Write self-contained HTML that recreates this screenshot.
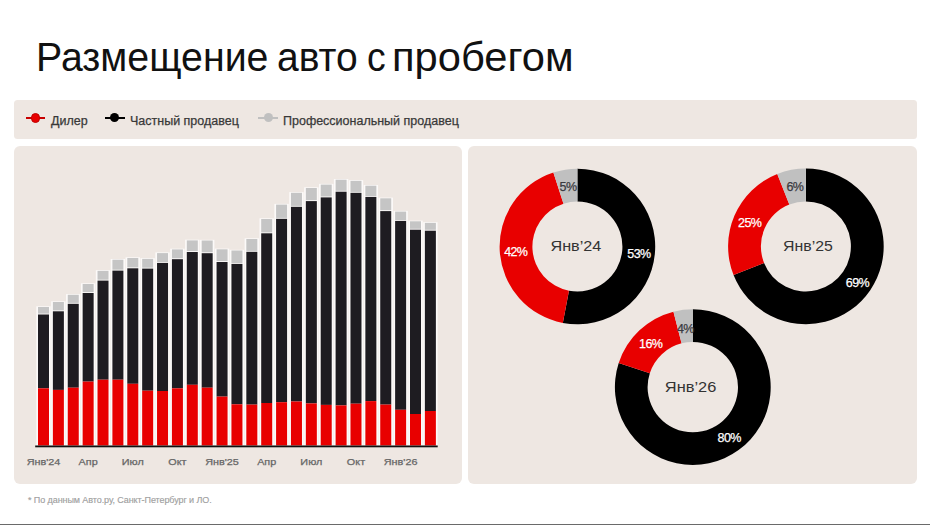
<!DOCTYPE html>
<html><head><meta charset="utf-8"><style>
*{margin:0;padding:0;box-sizing:border-box}
html,body{width:930px;height:525px;background:#fff;overflow:hidden}
body{position:relative;font-family:"Liberation Sans","DejaVu Sans",sans-serif}
.title{position:absolute;left:0;top:33.4px;width:930px;height:48px;font-size:41px;line-height:48px;color:#111;white-space:nowrap}
.legend{position:absolute;left:14px;top:100px;width:903px;height:39.3px;background:#EEE7E2;border-radius:3.5px}
.panel{position:absolute;top:146.3px;height:338.2px;background:#EEE7E2;border-radius:6px}
.lg{position:absolute;top:1.5px;height:39px;line-height:39px;font-size:12.5px;color:#383838;white-space:nowrap;-webkit-text-stroke:0.25px #383838}
.mk{position:absolute;top:17px;height:2px}
.dot{position:absolute;top:-3.5px;border-radius:50%}
.foot{position:absolute;left:28px;top:494.8px;font-size:9px;letter-spacing:-0.08px;-webkit-text-stroke:0.15px #a0a0a0;color:#a0a0a0;white-space:nowrap}
.bline{position:absolute;left:0;top:524px;width:930px;height:1px;background:#6a6a6a}
svg{position:absolute;left:0;top:0}
.ax{font-size:9.4px;fill:#666;stroke:#666;stroke-width:0.25px}
.pct{font-size:12.5px;letter-spacing:-0.6px;stroke-width:0.25px}
.ctr{font-size:14.9px;fill:#333}
</style></head><body>
<div class="title"><span style="position:absolute;left:36.12px;top:0;transform:scaleX(0.9584);transform-origin:0 0">Размещение</span><span style="position:absolute;left:276.90px;top:0;transform:scaleX(0.9519);transform-origin:0 0">авто</span><span style="position:absolute;left:367.48px;top:0;transform:scaleX(0.9118);transform-origin:0 0">с</span><span style="position:absolute;left:392.45px;top:0;transform:scaleX(1.0162);transform-origin:0 0">пробегом</span></div>
<div class="legend">
 <div class="mk" style="left:12.1px;width:19.2px;background:#C80000"><div class="dot" style="left:4.9px;top:-3.8px;width:9.5px;height:9.5px;background:#E80000;border:0.8px solid #C00000"></div></div>
 <div class="lg" style="left:37px">Дилер</div>
 <div class="mk" style="left:91px;width:19.6px;background:#000"><div class="dot" style="left:5.2px;top:-3.6px;width:9px;height:9px;background:#000"></div></div>
 <div class="lg" style="left:116px">Частный продавец</div>
 <div class="mk" style="left:244.1px;width:19.6px;background:#C0C0C0"><div class="dot" style="left:5.6px;top:-3.6px;width:9px;height:9px;background:#C0C0C0"></div></div>
 <div class="lg" style="left:269px">Профессиональный продавец</div>
</div>
<div class="panel" style="left:14px;width:448px"></div>
<div class="panel" style="left:468px;width:449px"></div>
<svg width="930" height="525" viewBox="0 0 930 525" font-family="Liberation Sans, DejaVu Sans, sans-serif">
<rect x="36.30" y="306.30" width="14.40" height="139.20" fill="#FCFAF9"/>
<rect x="38.00" y="307.00" width="11.00" height="6.60" fill="#C5C5C5"/>
<rect x="38.00" y="314.50" width="11.00" height="73.80" fill="#1E1C21"/>
<rect x="38.00" y="388.30" width="11.00" height="57.20" fill="#E80000"/>
<rect x="51.18" y="301.30" width="14.40" height="144.20" fill="#FCFAF9"/>
<rect x="52.88" y="302.00" width="11.00" height="8.40" fill="#C5C5C5"/>
<rect x="52.88" y="311.30" width="11.00" height="78.60" fill="#1E1C21"/>
<rect x="52.88" y="389.90" width="11.00" height="55.60" fill="#E80000"/>
<rect x="66.06" y="294.10" width="14.40" height="151.40" fill="#FCFAF9"/>
<rect x="67.76" y="294.80" width="11.00" height="8.10" fill="#C5C5C5"/>
<rect x="67.76" y="303.80" width="11.00" height="83.90" fill="#1E1C21"/>
<rect x="67.76" y="387.70" width="11.00" height="57.80" fill="#E80000"/>
<rect x="80.94" y="283.30" width="14.40" height="162.20" fill="#FCFAF9"/>
<rect x="82.64" y="284.00" width="11.00" height="8.10" fill="#C5C5C5"/>
<rect x="82.64" y="293.00" width="11.00" height="88.60" fill="#1E1C21"/>
<rect x="82.64" y="381.60" width="11.00" height="63.90" fill="#E80000"/>
<rect x="95.82" y="270.20" width="14.40" height="175.30" fill="#FCFAF9"/>
<rect x="97.52" y="270.90" width="11.00" height="8.80" fill="#C5C5C5"/>
<rect x="97.52" y="280.60" width="11.00" height="99.10" fill="#1E1C21"/>
<rect x="97.52" y="379.70" width="11.00" height="65.80" fill="#E80000"/>
<rect x="110.70" y="259.00" width="14.40" height="186.50" fill="#FCFAF9"/>
<rect x="112.40" y="259.70" width="11.00" height="10.00" fill="#C5C5C5"/>
<rect x="112.40" y="270.60" width="11.00" height="109.10" fill="#1E1C21"/>
<rect x="112.40" y="379.70" width="11.00" height="65.80" fill="#E80000"/>
<rect x="125.58" y="257.30" width="14.40" height="188.20" fill="#FCFAF9"/>
<rect x="127.28" y="258.00" width="11.00" height="9.40" fill="#C5C5C5"/>
<rect x="127.28" y="268.30" width="11.00" height="115.50" fill="#1E1C21"/>
<rect x="127.28" y="383.80" width="11.00" height="61.70" fill="#E80000"/>
<rect x="140.46" y="258.20" width="14.40" height="187.30" fill="#FCFAF9"/>
<rect x="142.16" y="258.90" width="11.00" height="8.80" fill="#C5C5C5"/>
<rect x="142.16" y="268.60" width="11.00" height="122.10" fill="#1E1C21"/>
<rect x="142.16" y="390.70" width="11.00" height="54.80" fill="#E80000"/>
<rect x="155.34" y="252.40" width="14.40" height="193.10" fill="#FCFAF9"/>
<rect x="157.04" y="253.10" width="11.00" height="8.90" fill="#C5C5C5"/>
<rect x="157.04" y="262.90" width="11.00" height="128.10" fill="#1E1C21"/>
<rect x="157.04" y="391.00" width="11.00" height="54.50" fill="#E80000"/>
<rect x="170.22" y="248.70" width="14.40" height="196.80" fill="#FCFAF9"/>
<rect x="171.92" y="249.40" width="11.00" height="8.90" fill="#C5C5C5"/>
<rect x="171.92" y="259.20" width="11.00" height="129.10" fill="#1E1C21"/>
<rect x="171.92" y="388.30" width="11.00" height="57.20" fill="#E80000"/>
<rect x="185.10" y="239.70" width="14.40" height="205.80" fill="#FCFAF9"/>
<rect x="186.80" y="240.40" width="11.00" height="10.70" fill="#C5C5C5"/>
<rect x="186.80" y="252.00" width="11.00" height="132.80" fill="#1E1C21"/>
<rect x="186.80" y="384.80" width="11.00" height="60.70" fill="#E80000"/>
<rect x="199.98" y="239.80" width="14.40" height="205.70" fill="#FCFAF9"/>
<rect x="201.68" y="240.50" width="11.00" height="11.80" fill="#C5C5C5"/>
<rect x="201.68" y="253.20" width="11.00" height="134.50" fill="#1E1C21"/>
<rect x="201.68" y="387.70" width="11.00" height="57.80" fill="#E80000"/>
<rect x="214.86" y="248.60" width="14.40" height="196.90" fill="#FCFAF9"/>
<rect x="216.56" y="249.30" width="11.00" height="11.80" fill="#C5C5C5"/>
<rect x="216.56" y="262.00" width="11.00" height="134.60" fill="#1E1C21"/>
<rect x="216.56" y="396.60" width="11.00" height="48.90" fill="#E80000"/>
<rect x="229.74" y="249.80" width="14.40" height="195.70" fill="#FCFAF9"/>
<rect x="231.44" y="250.50" width="11.00" height="12.50" fill="#C5C5C5"/>
<rect x="231.44" y="263.90" width="11.00" height="140.40" fill="#1E1C21"/>
<rect x="231.44" y="404.30" width="11.00" height="41.20" fill="#E80000"/>
<rect x="244.62" y="238.30" width="14.40" height="207.20" fill="#FCFAF9"/>
<rect x="246.32" y="239.00" width="11.00" height="11.90" fill="#C5C5C5"/>
<rect x="246.32" y="251.80" width="11.00" height="152.80" fill="#1E1C21"/>
<rect x="246.32" y="404.60" width="11.00" height="40.90" fill="#E80000"/>
<rect x="259.50" y="218.30" width="14.40" height="227.20" fill="#FCFAF9"/>
<rect x="261.20" y="219.00" width="11.00" height="13.40" fill="#C5C5C5"/>
<rect x="261.20" y="233.30" width="11.00" height="169.70" fill="#1E1C21"/>
<rect x="261.20" y="403.00" width="11.00" height="42.50" fill="#E80000"/>
<rect x="274.38" y="203.90" width="14.40" height="241.60" fill="#FCFAF9"/>
<rect x="276.08" y="204.60" width="11.00" height="13.30" fill="#C5C5C5"/>
<rect x="276.08" y="218.80" width="11.00" height="183.40" fill="#1E1C21"/>
<rect x="276.08" y="402.20" width="11.00" height="43.30" fill="#E80000"/>
<rect x="289.26" y="192.10" width="14.40" height="253.40" fill="#FCFAF9"/>
<rect x="290.96" y="192.80" width="11.00" height="13.10" fill="#C5C5C5"/>
<rect x="290.96" y="206.80" width="11.00" height="194.70" fill="#1E1C21"/>
<rect x="290.96" y="401.50" width="11.00" height="44.00" fill="#E80000"/>
<rect x="304.14" y="187.30" width="14.40" height="258.20" fill="#FCFAF9"/>
<rect x="305.84" y="188.00" width="11.00" height="12.20" fill="#C5C5C5"/>
<rect x="305.84" y="201.10" width="11.00" height="202.30" fill="#1E1C21"/>
<rect x="305.84" y="403.40" width="11.00" height="42.10" fill="#E80000"/>
<rect x="319.02" y="183.90" width="14.40" height="261.60" fill="#FCFAF9"/>
<rect x="320.72" y="184.60" width="11.00" height="11.90" fill="#C5C5C5"/>
<rect x="320.72" y="197.40" width="11.00" height="207.50" fill="#1E1C21"/>
<rect x="320.72" y="404.90" width="11.00" height="40.60" fill="#E80000"/>
<rect x="333.90" y="179.00" width="14.40" height="266.50" fill="#FCFAF9"/>
<rect x="335.60" y="179.70" width="11.00" height="11.10" fill="#C5C5C5"/>
<rect x="335.60" y="191.70" width="11.00" height="213.70" fill="#1E1C21"/>
<rect x="335.60" y="405.40" width="11.00" height="40.10" fill="#E80000"/>
<rect x="348.78" y="180.20" width="14.40" height="265.30" fill="#FCFAF9"/>
<rect x="350.48" y="180.90" width="11.00" height="11.00" fill="#C5C5C5"/>
<rect x="350.48" y="192.80" width="11.00" height="210.90" fill="#1E1C21"/>
<rect x="350.48" y="403.70" width="11.00" height="41.80" fill="#E80000"/>
<rect x="363.66" y="185.00" width="14.40" height="260.50" fill="#FCFAF9"/>
<rect x="365.36" y="185.70" width="11.00" height="10.30" fill="#C5C5C5"/>
<rect x="365.36" y="196.90" width="11.00" height="204.20" fill="#1E1C21"/>
<rect x="365.36" y="401.10" width="11.00" height="44.40" fill="#E80000"/>
<rect x="378.54" y="197.60" width="14.40" height="247.90" fill="#FCFAF9"/>
<rect x="380.24" y="198.30" width="11.00" height="11.90" fill="#C5C5C5"/>
<rect x="380.24" y="211.10" width="11.00" height="193.50" fill="#1E1C21"/>
<rect x="380.24" y="404.60" width="11.00" height="40.90" fill="#E80000"/>
<rect x="393.42" y="210.90" width="14.40" height="234.60" fill="#FCFAF9"/>
<rect x="395.12" y="211.60" width="11.00" height="8.40" fill="#C5C5C5"/>
<rect x="395.12" y="220.90" width="11.00" height="188.90" fill="#1E1C21"/>
<rect x="395.12" y="409.80" width="11.00" height="35.70" fill="#E80000"/>
<rect x="408.30" y="220.60" width="14.40" height="224.90" fill="#FCFAF9"/>
<rect x="410.00" y="221.30" width="11.00" height="7.50" fill="#C5C5C5"/>
<rect x="410.00" y="229.70" width="11.00" height="184.30" fill="#1E1C21"/>
<rect x="410.00" y="414.00" width="11.00" height="31.50" fill="#E80000"/>
<rect x="423.18" y="222.20" width="14.40" height="223.30" fill="#FCFAF9"/>
<rect x="424.88" y="222.90" width="11.00" height="6.90" fill="#C5C5C5"/>
<rect x="424.88" y="230.70" width="11.00" height="180.30" fill="#1E1C21"/>
<rect x="424.88" y="411.00" width="11.00" height="34.50" fill="#E80000"/>
<rect x="35.2" y="445.50" width="402.5" height="1.8" fill="#111"/>
<text x="26.68" y="465.2" class="ax" textLength="33.64" lengthAdjust="spacingAndGlyphs">Янв'24</text>
<text x="78.60" y="465.2" class="ax" textLength="19.09" lengthAdjust="spacingAndGlyphs">Апр</text>
<text x="121.80" y="465.2" class="ax" textLength="21.97" lengthAdjust="spacingAndGlyphs">Июл</text>
<text x="168.30" y="465.2" class="ax" textLength="18.23" lengthAdjust="spacingAndGlyphs">Окт</text>
<text x="205.24" y="465.2" class="ax" textLength="33.64" lengthAdjust="spacingAndGlyphs">Янв'25</text>
<text x="257.16" y="465.2" class="ax" textLength="19.09" lengthAdjust="spacingAndGlyphs">Апр</text>
<text x="300.36" y="465.2" class="ax" textLength="21.97" lengthAdjust="spacingAndGlyphs">Июл</text>
<text x="346.86" y="465.2" class="ax" textLength="18.23" lengthAdjust="spacingAndGlyphs">Окт</text>
<text x="383.80" y="465.2" class="ax" textLength="33.64" lengthAdjust="spacingAndGlyphs">Янв'26</text>
<path d="M577.40,168.70 A77.8,77.8 0 1 1 562.82,322.92 L568.97,290.70 A45.0,45.0 0 1 0 577.40,201.50 Z" fill="#000000"/>
<path d="M562.82,322.92 A77.8,77.8 0 0 1 553.36,172.51 L563.49,203.70 A45.0,45.0 0 0 0 568.97,290.70 Z" fill="#E80000"/>
<path d="M553.36,172.51 A77.8,77.8 0 0 1 577.40,168.70 L577.40,201.50 A45.0,45.0 0 0 0 563.49,203.70 Z" fill="#C0C0C0"/>
<text x="638.90" y="257.70" text-anchor="middle" class="pct" fill="#fff" stroke="#fff">53%</text>
<text x="515.75" y="255.80" text-anchor="middle" class="pct" fill="#fff" stroke="#fff">42%</text>
<text x="568.00" y="190.80" text-anchor="middle" class="pct" fill="#3a3a40" stroke="#3a3a40">5%</text>
<text x="550.48" y="251.20" class="ctr" textLength="50.84" lengthAdjust="spacingAndGlyphs">Янв’24</text>
<path d="M805.90,168.60 A77.8,77.8 0 1 1 733.56,275.04 L764.06,262.97 A45.0,45.0 0 1 0 805.90,201.40 Z" fill="#000000"/>
<path d="M733.56,275.04 A77.8,77.8 0 0 1 777.26,174.06 L789.33,204.56 A45.0,45.0 0 0 0 764.06,262.97 Z" fill="#E80000"/>
<path d="M777.26,174.06 A77.8,77.8 0 0 1 805.90,168.60 L805.90,201.40 A45.0,45.0 0 0 0 789.33,204.56 Z" fill="#C0C0C0"/>
<text x="857.40" y="286.70" text-anchor="middle" class="pct" fill="#fff" stroke="#fff">69%</text>
<text x="749.65" y="227.30" text-anchor="middle" class="pct" fill="#fff" stroke="#fff">25%</text>
<text x="794.95" y="191.00" text-anchor="middle" class="pct" fill="#3a3a40" stroke="#3a3a40">6%</text>
<text x="783.10" y="251.00" class="ctr" textLength="49.70" lengthAdjust="spacingAndGlyphs">Янв’25</text>
<path d="M692.80,309.20 A77.9,77.9 0 1 1 618.71,363.03 L649.81,373.13 A45.2,45.2 0 1 0 692.80,341.90 Z" fill="#000000"/>
<path d="M618.71,363.03 A77.9,77.9 0 0 1 673.43,311.65 L681.56,343.32 A45.2,45.2 0 0 0 649.81,373.13 Z" fill="#E80000"/>
<path d="M673.43,311.65 A77.9,77.9 0 0 1 692.80,309.20 L692.80,341.90 A45.2,45.2 0 0 0 681.56,343.32 Z" fill="#C0C0C0"/>
<text x="729.15" y="442.40" text-anchor="middle" class="pct" fill="#fff" stroke="#fff">80%</text>
<text x="650.70" y="347.70" text-anchor="middle" class="pct" fill="#fff" stroke="#fff">16%</text>
<text x="685.35" y="332.90" text-anchor="middle" class="pct" fill="#3a3a40" stroke="#3a3a40">4%</text>
<text x="664.87" y="392.40" class="ctr" textLength="51.46" lengthAdjust="spacingAndGlyphs">Янв’26</text>
</svg>
<div class="foot">* По данным Авто.ру, Санкт-Петербург и ЛО.</div>
<div class="bline"></div>
</body></html>
